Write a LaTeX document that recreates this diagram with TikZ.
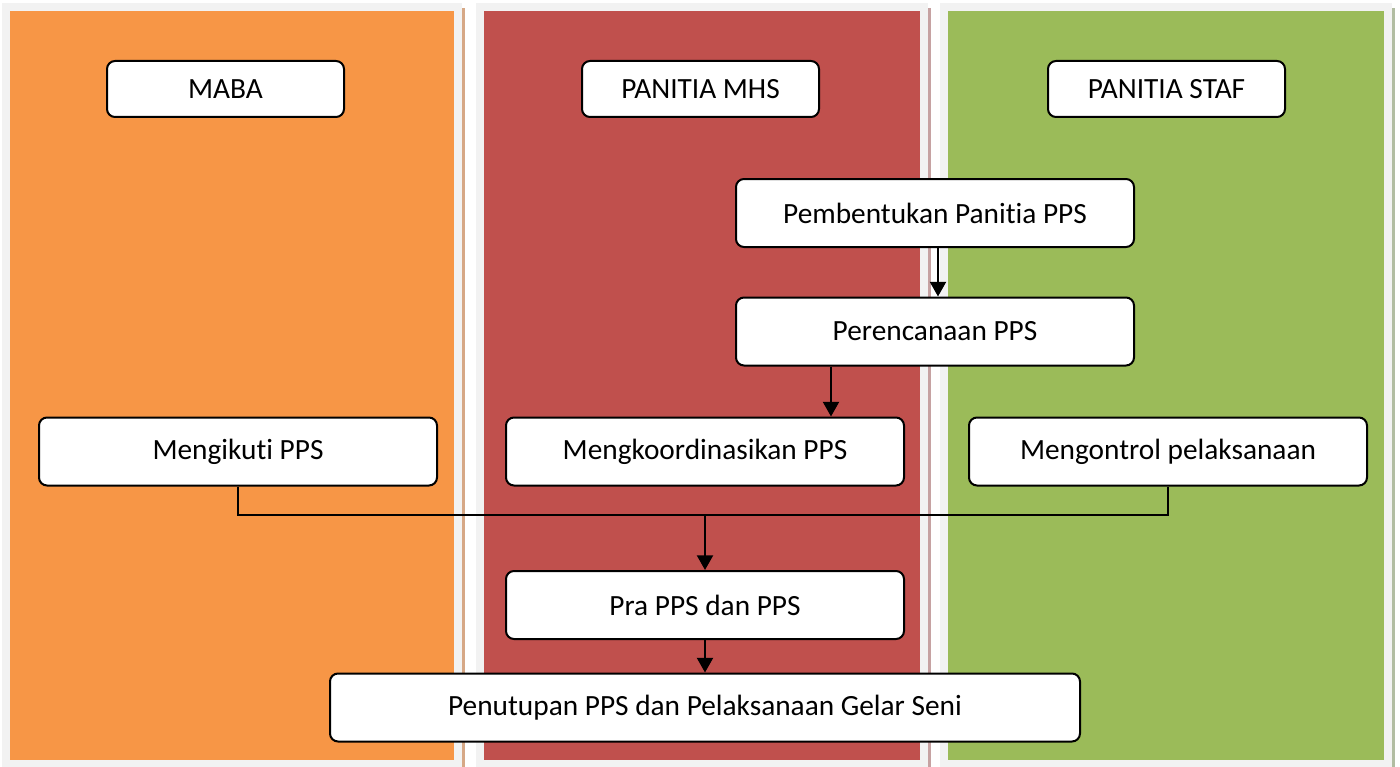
\documentclass[tikz,border=0pt]{standalone}
\usepackage{fontspec}
\setmainfont{Carlito}[Ligatures={NoCommon}]
\usepackage{xcolor}
\usetikzlibrary{arrows.meta, positioning}

\definecolor{lanegrey}{HTML}{F2F2F2}
\definecolor{mabaorange}{HTML}{F79646}
\definecolor{mhsred}{HTML}{C0504D}
\definecolor{stafgreen}{HTML}{9BBB59}
\definecolor{edgeorange}{HTML}{D6A886}
\definecolor{edgered}{HTML}{C6A2A2}
\definecolor{edgegreen}{HTML}{B2BDA2}

\begin{document}
\begin{tikzpicture}[x=0.75pt, y=-0.75pt,
    box/.style={draw, line width=1.5pt, rounded corners=6pt, fill=white,
                minimum height=51pt, minimum width=298.5pt, inner sep=0pt,
                font=\fontsize{22}{26}\selectfont},
    head/.style={box, minimum height=42pt, minimum width=177.75pt},
    arr/.style={line width=1.6pt, -{Triangle[length=11pt, width=12pt]}},
    link/.style={line width=1.6pt}]
    \useasboundingbox (0,0) rectangle (1400,767);
    % lanes
    \fill[lanegrey] (2,3) rectangle (462,767);
    \fill[lanegrey] (476,3) rectangle (928,767);
    \fill[lanegrey] (940,3) rectangle (1392,767);
    \fill[mabaorange] (10,11) rectangle (454,760);
    \fill[mhsred] (484,11) rectangle (920,760);
    \fill[stafgreen] (948,11) rectangle (1384,760);
    \fill[edgeorange] (462,8) rectangle (465,767);
    \fill[edgered] (928,8) rectangle (931,767);
    \fill[edgegreen] (1392,8) rectangle (1395,767);

    \node (maba) [head] at (225.5,89) {MABA};
    \node (mhs) [head] at (700.5,89) {PANITIA MHS};
    \node (staf) [head] at (1166.5,89) {PANITIA STAF};
    \node (bentuk) [box] at (935,213) {Pembentukan Panitia PPS};
    \node (rencana) [box] at (935,331.5) {Perencanaan PPS};
    \node (ikuti) [box] at (238,451.5) {Mengikuti PPS};
    \node (koordinasi) [box] at (705,451.5) {Mengkoordinasikan PPS};
    \node (kontrol) [box] at (1168,451.5) {Mengontrol pelaksanaan};
    \node (pra) [box] at (705,605) {Pra PPS dan PPS};
    \node (tutup) [box, minimum width=562.5pt] at (705,707.5) {Penutupan PPS dan Pelaksanaan Gelar Seni};

    \coordinate (b1) at ([xshift=2.25pt]bentuk.south);
    \coordinate (r1) at ([xshift=-78pt]rencana.south);
    \coordinate (bus) at (705,515);
    \draw[arr] (b1) -- (b1 |- rencana.north);
    \draw[arr] (r1) -- (r1 |- koordinasi.north);
    \draw[link] (ikuti.south) |- (bus) -| (kontrol.south);
    \draw[arr] (bus) -- (pra.north);
    \draw[arr] (pra) -- (tutup);
\end{tikzpicture}
\end{document}
